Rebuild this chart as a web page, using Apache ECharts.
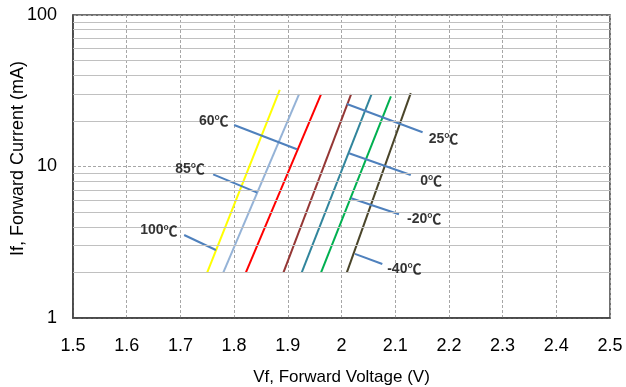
<!DOCTYPE html>
<html>
<head>
<meta charset="utf-8">
<script src="https://cdn.jsdelivr.net/npm/echarts@6/dist/echarts.min.js"></script>
<style>html,body{margin:0;padding:0;background:#fff}#c{width:626px;height:387px}</style>
</head>
<body>
<div id="c"></div>
<script>
// Temperature curves (If vs Vf), each a straight segment on the log axis
const tempLabels = ['100℃', '85℃', '60℃', '25℃', '0℃', '-20℃', '-40℃'];
const vfLow  = [1.750, 1.780, 1.822, 1.892, 1.926, 1.962, 2.010];
const ifLow  = [2, 2, 2, 2, 2, 2, 2];
const vfHigh = [1.885, 1.921, 1.962, 2.018, 2.056, 2.092, 2.129];
const ifHigh = [32, 30, 30, 30, 30, 29, 30.5];

// Annotation leader lines (curve end, label end) and label anchors, in data units
const leaderVfA = [1.766, 1.843, 1.917, 2.010, 2.014, 2.018, 2.025];
const leaderIfA = [2.81, 6.72, 12.99, 25.85, 12.22, 6.17, 2.65];
const leaderVfB = [1.707, 1.761, 1.800, 2.151, 2.129, 2.107, 2.076];
const leaderIfB = [3.53, 8.88, 18.79, 16.82, 8.79, 4.84, 2.27];
const labelVf = [1.660, 1.718, 1.762, 2.190, 2.167, 2.154, 2.117];
const labelIf = [3.78, 9.63, 19.97, 15.19, 8.02, 4.50, 2.105];

// Minor log grid values
const minorGrid = [2, 3, 4, 5, 6, 7, 8, 9, 20, 30, 40, 50, 60, 70, 80, 90];

const colors = ['#FFFF00', '#95B3D7', '#FF0000', '#953735', '#31859C', '#00B050', '#4A452A'];
const leaderColor = '#4F81BD';
const FONT = 'Arial, "Liberation Sans", sans-serif';

const series = [];
series.push({
  type: 'line', data: [], silent: true, z: 1,
  markLine: {
    silent: true, symbol: 'none', label: { show: false },
    lineStyle: { color: '#c0c0c0', type: 'solid', width: 1 },
    data: minorGrid.map(v => ({ yAxis: v }))
  }
});
tempLabels.forEach((t, i) => {
  series.push({
    type: 'line', name: t, z: 3, symbol: 'none', silent: true,
    lineStyle: { color: colors[i], width: 2 },
    data: [[vfLow[i], ifLow[i]], [vfHigh[i], ifHigh[i]]]
  });
  series.push({
    type: 'line', z: 4, symbol: 'none', silent: true,
    lineStyle: { color: leaderColor, width: 2 },
    data: [[leaderVfA[i], leaderIfA[i]], [leaderVfB[i], leaderIfB[i]]]
  });
});
series.push({
  type: 'scatter', z: 5, silent: true, symbolSize: 0,
  itemStyle: { color: 'rgba(0,0,0,0)' },
  label: {
    show: true, position: 'inside',
    formatter: p => '{n|' + p.name.replace('℃', '') + '}{u|℃}',
    rich: {
      n: { fontFamily: FONT, fontWeight: 'bold', fontSize: 14, color: '#000' },
      u: { fontFamily: '"Noto Sans CJK SC", sans-serif', fontWeight: 'bold', fontSize: 14, color: '#000' }
    }
  },
  data: tempLabels.map((t, i) => ({ name: t, value: [labelVf[i], labelIf[i]] }))
});

const chart = echarts.init(document.getElementById('c'), null, { renderer: 'canvas' });
chart.setOption({
  animation: false,
  backgroundColor: '#fff',
  grid: { left: 73, right: 16, top: 15, bottom: 69, containLabel: false, outerBoundsMode: 'none',
    show: true, borderColor: '#404040', borderWidth: 1.5 },
  xAxis: {
    type: 'value', min: 1.5, max: 2.5, interval: 0.1,
    name: 'Vf, Forward Voltage (V)', nameLocation: 'middle', nameGap: 51, nameMoveOverlap: false,
    nameTextStyle: { fontFamily: FONT, fontSize: 17, color: '#000' },
    axisLine: { show: true, lineStyle: { color: '#404040', width: 1.5 } },
    axisTick: { show: false },
    axisLabel: { fontFamily: FONT, fontSize: 18, color: '#000', margin: 19,
      formatter: v => String(Math.round(v * 10) / 10) },
    splitLine: { show: true, lineStyle: { color: '#a6a6a6', type: [3, 2], width: 1 } }
  },
  yAxis: {
    type: 'log', logBase: 10, min: 1, max: 100,
    name: 'If, Forward Current (mA)', nameLocation: 'middle', nameGap: 46, nameMoveOverlap: false,
    nameTextStyle: { fontFamily: FONT, fontSize: 18, color: '#000', padding: [0, 0, 0, 16] },
    axisLine: { show: true, lineStyle: { color: '#404040', width: 1.5 } },
    axisTick: { show: false },
    axisLabel: { fontFamily: FONT, fontSize: 18, color: '#000', margin: 16 },
    splitLine: { show: true, lineStyle: { color: '#a6a6a6', type: [3, 2], width: 1 } }
  },
  series: series
});
</script>
</body>
</html>
